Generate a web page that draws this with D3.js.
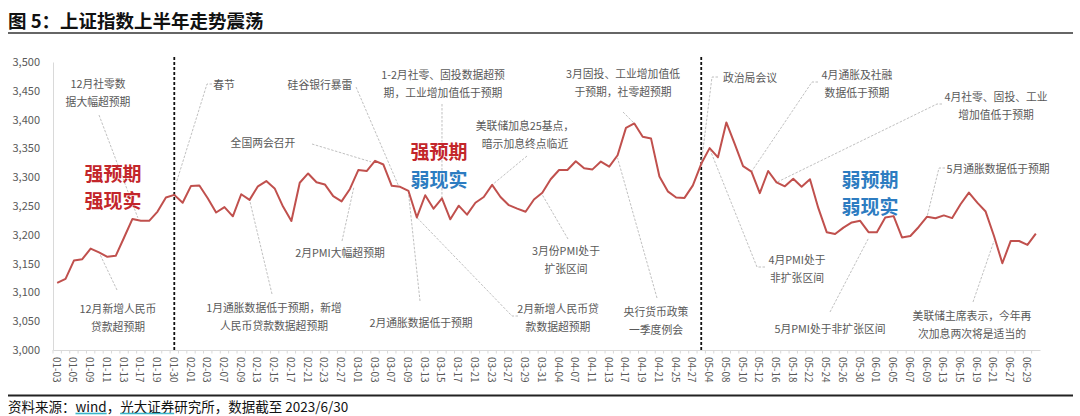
<!DOCTYPE html>
<html><head><meta charset="utf-8">
<script src="https://cdn.jsdelivr.net/npm/d3@7"></script>
<style>body{margin:0;background:#fff} svg{display:block}</style>
</head><body><svg id="c" width="1080" height="416"></svg>
<script>
// ---------- DATA ----------
const dates = [
 "01-03","01-04","01-05","01-06","01-09","01-10","01-11","01-12","01-13","01-16","01-17","01-18","01-19","01-20","01-30","01-31",
 "02-01","02-02","02-03","02-06","02-07","02-08","02-09","02-10","02-13","02-14","02-15","02-16","02-17","02-20","02-21","02-22","02-23","02-24","02-27","02-28",
 "03-01","03-02","03-03","03-06","03-07","03-08","03-09","03-10","03-13","03-14","03-15","03-16","03-17","03-20","03-21","03-22","03-23","03-24","03-27","03-28","03-29","03-30","03-31",
 "04-03","04-04","04-06","04-07","04-10","04-11","04-12","04-13","04-14","04-17","04-18","04-19","04-20","04-21","04-24","04-25","04-26","04-27","04-28",
 "05-04","05-05","05-08","05-09","05-10","05-11","05-12","05-15","05-16","05-17","05-18","05-19","05-22","05-23","05-24","05-25","05-26","05-29","05-30","05-31",
 "06-01","06-02","06-05","06-06","06-07","06-08","06-09","06-12","06-13","06-14","06-15","06-16","06-19","06-20","06-21","06-26","06-27","06-28","06-29","06-30"
];
const closes = [
 3116.51,3123.52,3155.22,3157.64,3176.08,3169.51,3161.84,3163.45,3195.31,3227.59,3224.41,3224.24,3240.28,3264.81,3269.32,3255.67,
 3284.92,3285.67,3263.41,3238.70,3248.09,3232.11,3270.38,3260.67,3284.16,3293.28,3280.49,3249.03,3224.02,3290.34,3306.52,3291.15,3287.48,3267.16,3258.03,3279.61,
 3312.35,3310.65,3328.39,3322.03,3285.10,3283.25,3276.09,3230.08,3268.70,3245.31,3263.31,3226.89,3250.55,3234.91,3255.65,3265.65,3286.65,3265.70,3251.40,3245.38,3240.06,3261.25,3272.86,
 3296.40,3312.56,3312.40,3327.65,3315.36,3313.57,3327.18,3318.36,3338.15,3385.61,3393.33,3370.13,3367.03,3301.26,3275.41,3264.87,3264.10,3285.88,3323.27,
 3350.46,3334.50,3395.00,3357.67,3319.15,3309.55,3272.36,3310.74,3290.99,3284.23,3297.32,3283.54,3296.47,3246.24,3204.56,3201.26,3212.50,3221.45,3224.21,3204.56,
 3204.63,3230.07,3232.44,3195.34,3197.90,3213.59,3231.41,3228.83,3233.67,3228.99,3252.98,3273.33,3255.81,3240.36,3197.90,3150.62,3189.38,3189.25,3182.38,3202.06
];
const tickLabels = ["01-03","01-05","01-09","01-11","01-13","01-17","01-19","01-30","02-01","02-03","02-07","02-09","02-13","02-15","02-17","02-21","02-23","02-27",
 "03-01","03-03","03-07","03-09","03-13","03-15","03-17","03-21","03-23","03-27","03-29","03-31","04-04","04-07","04-11","04-13","04-17","04-19","04-21","04-25","04-27",
 "05-04","05-08","05-10","05-12","05-16","05-18","05-22","05-24","05-26","05-30","06-01","06-05","06-07","06-09","06-13","06-15","06-19","06-21","06-27","06-29"];
const yTicks = [3000,3050,3100,3150,3200,3250,3300,3350,3400,3450,3500];
const dividerDates = ["01-30","04-28"];
const titleText = "图 5：上证指数上半年走势震荡";
const sourceParts = [["资料来源：",false],["wind",true],["，",false],["光大证券",true],["研究所，数据截至 2023/6/30",false]];
const phaseTexts = [[["强预期","r"],["强现实","r"]],[["强预期","r"],["弱现实","b"]],[["弱预期","b"],["弱现实","b"]]];
const noteTexts = [
 ["12月社零数","据大幅超预期"],
 ["12月新增人民币","贷款超预期"],
 ["春节"],
 ["全国两会召开"],
 ["硅谷银行暴雷"],
 ["2月PMI大幅超预期"],
 ["1-2月社零、固投数据超预","期，工业增加值低于预期"],
 ["美联储加息25基点，","暗示加息终点临近"],
 ["3月份PMI处于","扩张区间"],
 ["2月新增人民币贷","款数据超预期"],
 ["2月通胀数据低于预期"],
 ["1月通胀数据低于预期，新增","人民币贷款数据超预期"],
 ["3月固投、工业增加值低","于预期，社零超预期"],
 ["央行货币政策","一季度例会"],
 ["政治局会议"],
 ["4月通胀及社融","数据低于预期"],
 ["4月社零、固投、工业","增加值低于预期"],
 ["4月PMI处于","非扩张区间"],
 ["5月PMI处于非扩张区间"],
 ["5月通胀数据低于预期"],
 ["美联储主席表示，今年再","次加息两次将是适当的"]
];
const noteDates = ["01-17","01-10","01-30","03-03","03-08","02-28","03-15","03-23","03-31","03-10","03-09","02-10","04-18","04-14","04-28","05-11","05-16","05-04","05-31","06-09","06-21"];

// ---------- LAYOUT ----------
const noteLayout = [
 {cx:98, cy:83, from:[[99,115]], dx:-3, dy:-3},
 {cx:118, cy:308, from:[[117,290]], dx:1, dy:2},
 {cx:224, cy:84, from:[[212,84],[207,84]], dx:2, dy:-12},
 {cx:263, cy:142, from:[[312,144]], dx:-4, dy:1},
 {cx:320, cy:84, from:[[356,87]], dx:-2, dy:-2},
 {cx:340, cy:252, from:[[342,241]], dx:4, dy:-2},
 {cx:443, cy:74, from:[[442,104]], dx:0, dy:0},
 {cx:525, cy:125, from:[[527,156]], dx:0, dy:0},
 {cx:566, cy:250, from:[[568,239]], dx:0, dy:2},
 {cx:558, cy:308, from:[[518,316],[512,316]], dx:0, dy:0},
 {cx:421, cy:322, from:[[420,301]], dx:0, dy:2},
 {cx:274, cy:307, from:[[272,294]], dx:0, dy:0},
 {cx:623, cy:73, from:[[623,112]], dx:0, dy:0},
 {cx:656, cy:311, from:[[657,298]], dx:0, dy:3},
 {cx:750, cy:77, from:[[718,77],[712,77]], dx:0, dy:0},
 {cx:857, cy:74, from:[[818,82],[812,82]], dx:0, dy:0},
 {cx:996, cy:96, from:[[942,104],[937,104]], dx:0, dy:0},
 {cx:797, cy:259, from:[[765,267],[757,267]], dx:1, dy:3},
 {cx:830, cy:328, from:[[830,312]], dx:0, dy:6},
 {cx:998, cy:168, from:[[945,168],[939,168]], dx:0, dy:0},
 {cx:972, cy:315, from:[[973,302]], dx:0, dy:5}
];
const phaseLayout = [{cx:113, cy:[172,199]},{cx:439, cy:[150,178]},{cx:870, cy:[178,205]}];
const phaseColor = {r:"#C3262B", b:"#2D7CC1"};

const FONT = "'Noto Sans CJK SC','Noto Sans',sans-serif";
const svg = d3.select("#c").style("font-family", FONT);

const x = d3.scaleBand().domain(dates).range([53, 1040]).padding(0);
const cxOf = d => x(d) + x.bandwidth() / 2;
const y = d3.scaleLinear().domain([3000, 3500]).range([350, 62]);
const valOf = {}; dates.forEach((d, i) => valOf[d] = closes[i]);

// title + rules
svg.append("text").attr("x", 8).attr("y", 19.5).attr("dominant-baseline", "central")
  .attr("font-size", 18.5).attr("font-weight", 700).attr("fill", "#111").text(titleText);
svg.append("line").attr("x1", 8).attr("x2", 1073).attr("y1", 33).attr("y2", 33).attr("stroke", "#333").attr("stroke-width", 1.6);
svg.append("line").attr("x1", 8).attr("x2", 1073).attr("y1", 395.5).attr("y2", 395.5).attr("stroke", "#222").attr("stroke-width", 2);

// y axis
const yAxis = d3.axisLeft(y).tickValues(yTicks).tickFormat(d3.format(",")).tickSize(0).tickPadding(13);
const gy = svg.append("g").attr("transform", "translate(53,0)").call(yAxis);
gy.select(".domain").attr("stroke", "#d9d9d9");
gy.selectAll("text").attr("font-size", 11).attr("fill", "#595959").attr("font-family", FONT);

// x axis
const xAxis = d3.axisBottom(x).tickValues(tickLabels).tickSize(0).tickFormat(d => d);
const gx = svg.append("g").attr("transform", "translate(0,350)").call(xAxis);
gx.select(".domain").attr("stroke", "#d9d9d9");
gx.selectAll(".tick text").attr("font-size", 10).attr("fill", "#595959").attr("font-family", FONT)
  .attr("text-anchor", "start").attr("dominant-baseline", "central")
  .attr("transform", "translate(0,7) rotate(90)").attr("x", 0).attr("y", 0).attr("dy", null);
svg.append("g").selectAll("line").data(dates).join("line")
  .attr("x1", d => x(d)).attr("x2", d => x(d)).attr("y1", 350).attr("y2", 353.5)
  .attr("stroke", "#d9d9d9").attr("stroke-width", 1);

// dividers
svg.append("g").selectAll("line").data(dividerDates).join("line")
  .attr("x1", d => cxOf(d)).attr("x2", d => cxOf(d)).attr("y1", 57).attr("y2", 350)
  .attr("stroke", "#111").attr("stroke-width", 1.8).attr("stroke-dasharray", "3,2");

// leaders
const leaderG = svg.append("g");
noteLayout.forEach((L, i) => {
  const d = noteDates[i];
  const pts = L.from.concat([[cxOf(d) + L.dx, y(valOf[d]) + L.dy]]);
  leaderG.append("path").attr("d", d3.line()(pts)).attr("fill", "none")
    .attr("stroke", "#b0b0b0").attr("stroke-width", 0.8).attr("stroke-dasharray", "2.5,1.5");
});

// line
svg.append("path").datum(dates)
  .attr("d", d3.line().x(d => cxOf(d)).y(d => y(valOf[d])))
  .attr("fill", "none").attr("stroke", "#C0504D").attr("stroke-width", 2).attr("stroke-linejoin", "round");

// notes
const noteG = svg.append("g").attr("font-size", 10.8).attr("fill", "#595959");
noteTexts.forEach((lines, i) => {
  const L = noteLayout[i];
  lines.forEach((t, j) => {
    noteG.append("text").attr("x", L.cx).attr("y", L.cy + j * 18)
      .attr("text-anchor", "middle").attr("dominant-baseline", "central").text(t);
  });
});

// phase labels
phaseTexts.forEach((lines, i) => {
  const L = phaseLayout[i];
  lines.forEach((p, j) => {
    svg.append("text").attr("x", L.cx).attr("y", L.cy[j]).attr("text-anchor", "middle")
      .attr("dominant-baseline", "central").attr("font-size", 19).attr("font-weight", 700)
      .attr("fill", phaseColor[p[1]]).text(p[0]);
  });
});

// source
const src = svg.append("text").attr("x", 8).attr("y", 406).attr("dominant-baseline", "central")
  .attr("font-size", 13.5).attr("fill", "#111");
sourceParts.forEach(p => src.append("tspan").text(p[0]));
let idx = 0;
const node = src.node();
sourceParts.forEach(p => {
  const n = p[0].length;
  if (p[1]) {
    const x0 = node.getStartPositionOfChar(idx).x;
    const x1 = node.getEndPositionOfChar(idx + n - 1).x;
    svg.append("line").attr("x1", x0).attr("x2", x1).attr("y1", 413.5).attr("y2", 413.5)
      .attr("stroke", "#3BB6C9").attr("stroke-width", 1.6);
  }
  idx += n;
});
</script>
</body></html>
